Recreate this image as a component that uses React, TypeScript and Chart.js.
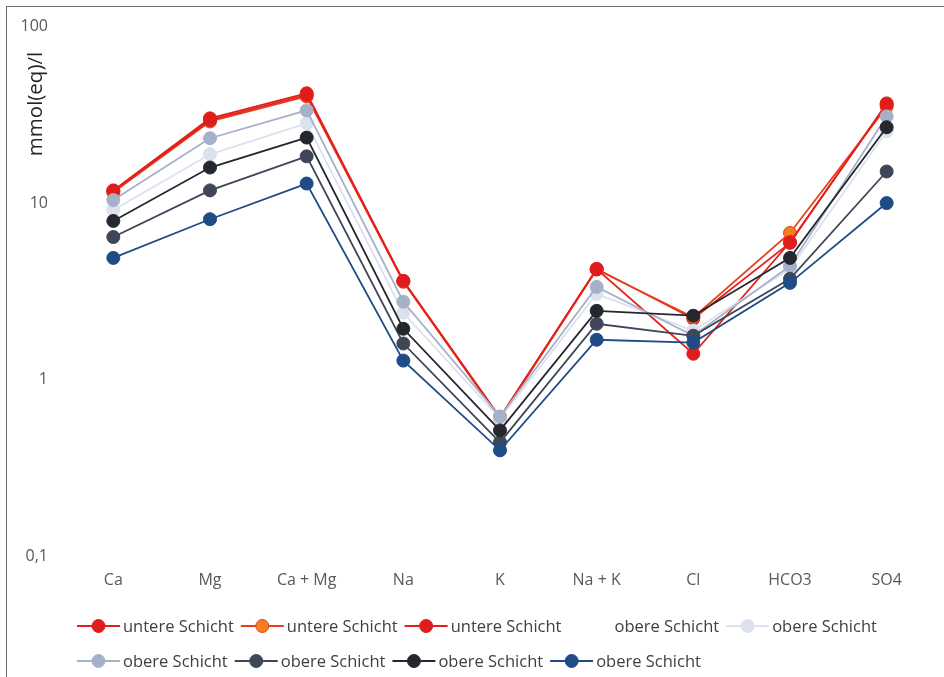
import { useEffect, useRef } from "react";
import { Chart, registerables } from "chart.js";

Chart.register(...registerables);

// Ionen (x-Achse)
const categories = ["Ca", "Mg", "Ca + Mg", "Na", "K", "Na + K", "Cl", "HCO3", "SO4"];
// Beschriftete Werte der logarithmischen y-Achse
const yTickValues = [0.1, 1, 10, 100];

// Konzentrationen in mmol(eq)/l
const untere1 = [11.8, 30.2, 41.9, 3.62, 0.61, 4.24, 2.21, 5.95, 36.7];
const untere2 = [11.5, 29.0, 40.2, 3.58, 0.6, 4.2, 2.25, 6.77, 35.1];
const untere3 = [11.7, 29.5, 41.0, 3.62, 0.61, 4.22, 1.4, 6.0, 36.2];
const obere1: (number | null)[] = [null, null, null, null, null, null, null, null, null];
const obere2 = [9.13, 18.9, 28.3, 2.39, 0.6, 3.06, 1.89, 4.24, 25.5];
const obere3 = [10.4, 23.3, 33.5, 2.76, 0.618, 3.35, 1.77, 4.4, 31.0];
const obere4 = [6.42, 11.8, 18.4, 1.6, 0.441, 2.07, 1.77, 3.72, 15.1];
const obere5 = [7.92, 15.9, 23.5, 1.94, 0.515, 2.45, 2.3, 4.89, 26.9];
const obere6 = [4.89, 8.1, 12.9, 1.28, 0.397, 1.68, 1.62, 3.53, 10.0];

const FONT = "'Open Sans', 'Noto Sans', sans-serif";

type SeriesDef = {
  label: string;
  data: (number | null)[];
  line: string;
  fill: string;
  stroke: string;
};

const series: SeriesDef[] = [
  { label: "untere Schicht", data: untere1, line: "#e3201b", fill: "#e01c1c", stroke: "#e01c1c" },
  { label: "untere Schicht", data: untere2, line: "#e6401d", fill: "#f47e20", stroke: "#e6401d" },
  { label: "untere Schicht", data: untere3, line: "#e3201b", fill: "#e01c1c", stroke: "#e01c1c" },
  { label: "obere Schicht", data: obere1, line: "rgba(0,0,0,0)", fill: "rgba(0,0,0,0)", stroke: "rgba(0,0,0,0)" },
  { label: "obere Schicht", data: obere2, line: "#dde0ee", fill: "#dde0ee", stroke: "#dde0ee" },
  { label: "obere Schicht", data: obere3, line: "#a5b1c8", fill: "#a5b1c8", stroke: "#a5b1c8" },
  { label: "obere Schicht", data: obere4, line: "#3e4657", fill: "#3e4657", stroke: "#3e4657" },
  { label: "obere Schicht", data: obere5, line: "#24282e", fill: "#24282e", stroke: "#24282e" },
  { label: "obere Schicht", data: obere6, line: "#1f4b86", fill: "#1f4b86", stroke: "#1f4b86" },
];

// Legende im Excel-Stil: Linie mit Marker, fortlaufend umbrechend
const flowLegend = {
  id: "flowLegend",
  afterDraw(chart: Chart) {
    const ctx = chart.ctx;
    const startX = 77;
    const rowY = [626, 661];
    const maxX = chart.chartArea.right;
    ctx.save();
    ctx.font = `16.5px ${FONT}`;
    ctx.textBaseline = "middle";
    let x = startX;
    let row = 0;
    series.forEach((s) => {
      const tw = ctx.measureText(s.label).width;
      const w = 46 + tw;
      if (x + w > maxX) {
        row += 1;
        x = startX;
      }
      const y = rowY[row];
      ctx.strokeStyle = s.line;
      ctx.lineWidth = 2;
      ctx.beginPath();
      ctx.moveTo(x, y);
      ctx.lineTo(x + 43, y);
      ctx.stroke();
      ctx.beginPath();
      ctx.arc(x + 21.5, y, 6.5, 0, Math.PI * 2);
      ctx.fillStyle = s.fill;
      ctx.fill();
      ctx.lineWidth = 1;
      ctx.strokeStyle = s.stroke;
      ctx.stroke();
      ctx.fillStyle = "#404040";
      ctx.textAlign = "left";
      ctx.fillText(s.label, x + 46, y + 1);
      x += w + 7;
    });
    ctx.restore();
  },
};

// Achsentitel oben links neben der y-Achse
const yTitle = {
  id: "yTitle",
  afterDraw(chart: Chart) {
    const ctx = chart.ctx;
    ctx.save();
    ctx.translate(36, 104);
    ctx.rotate(-Math.PI / 2);
    ctx.font = `20.5px ${FONT}`;
    ctx.fillStyle = "#262626";
    ctx.textAlign = "center";
    ctx.textBaseline = "middle";
    ctx.fillText("mmol(eq)/l", 0, 0);
    ctx.restore();
  },
};

export default function App() {
  const canvasRef = useRef<HTMLCanvasElement | null>(null);

  useEffect(() => {
    const canvas = canvasRef.current;
    if (!canvas) return;
    const chart = new Chart(canvas, {
      type: "line",
      data: {
        labels: categories,
        datasets: series.map((s, i) => ({
          label: s.label,
          data: s.data,
          borderColor: s.line,
          backgroundColor: s.fill,
          pointBackgroundColor: s.fill,
          pointBorderColor: s.stroke,
          pointBorderWidth: 1,
          pointRadius: 6.5,
          borderWidth: 1.8,
          tension: 0,
          spanGaps: false,
          order: series.length - i,
        })),
      },
      options: {
        responsive: false,
        animation: false,
        devicePixelRatio: 1,
        layout: { padding: { top: 25, right: 9, bottom: 77, left: 0 } },
        plugins: {
          legend: { display: false },
          tooltip: { enabled: false },
        },
        scales: {
          x: {
            offset: true,
            grid: { display: false, drawTicks: false },
            border: { display: false },
            ticks: {
              color: "#595959",
              font: { family: FONT, size: 16 },
              padding: 15,
              maxRotation: 0,
            },
            afterFit: (scale: any) => {
              scale.height = 44;
            },
          },
          y: {
            type: "logarithmic",
            min: 0.1,
            max: 100,
            grid: { display: false, drawTicks: false },
            border: { display: false },
            afterBuildTicks: (scale: any) => {
              scale.ticks = yTickValues.map((v) => ({ value: v }));
            },
            afterFit: (scale: any) => {
              scale.width = 65;
            },
            ticks: {
              color: "#595959",
              font: { family: FONT, size: 16 },
              padding: 17,
              callback: (v: any) => String(v).replace(".", ","),
            },
          },
        },
      },
      plugins: [flowLegend, yTitle],
    });
    return () => chart.destroy();
  }, []);

  return (
    <div style={{ position: "fixed", inset: 0, overflow: "hidden", background: "#fff" }}>
      <div
        style={{
          position: "absolute",
          left: 6,
          top: 6,
          width: 960,
          height: 700,
          borderLeft: "1px solid #6e6e6e",
          borderTop: "1px solid #6e6e6e",
        }}
      />
      <canvas
        ref={canvasRef}
        width={944}
        height={677}
        style={{ position: "absolute", left: 0, top: 0, width: 944, height: 677 }}
      />
    </div>
  );
}
